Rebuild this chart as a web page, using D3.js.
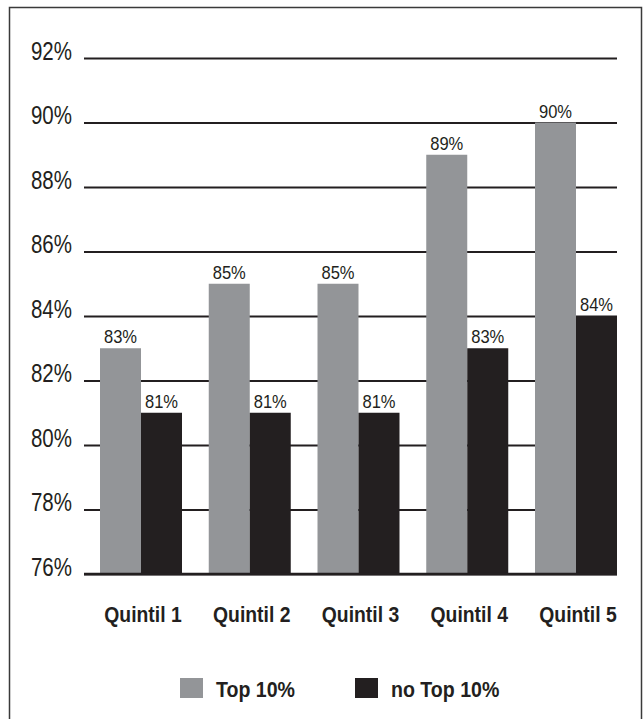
<!DOCTYPE html>
<html>
<head>
<meta charset="utf-8">
<script src="https://cdn.jsdelivr.net/npm/d3@7"></script>
<style>
body { margin: 0; background: #fff; }
text { font-family: "Liberation Sans", Arial, sans-serif; fill: #231f20; }
.ticklab { font-size: 25px; }
.vallab { font-size: 18px; }
.catlab { font-size: 22px; font-weight: bold; }
.leglab { font-size: 22px; font-weight: bold; }
</style>
</head>
<body>
<div id="chart"></div>
<script>
var categories = ["Quintil 1", "Quintil 2", "Quintil 3", "Quintil 4", "Quintil 5"];
var seriesNames = ["Top 10%", "no Top 10%"];
var top10 = [83, 85, 85, 89, 90];
var noTop10 = [81, 81, 81, 83, 84];
var yTicks = [76, 78, 80, 82, 84, 86, 88, 90, 92];
var colors = ["#939598", "#231f20"];

// narrow the glyphs a bit, the original uses a condensed face
var squeeze = function(x, y, s){ return "translate(" + x + "," + y + ") scale(" + s + ",1)"; };

var draw = function(){
	var svg = d3.select("#chart").append("svg").attr("width", 643).attr("height", 719);

	// frame, open at the bottom
	svg.append("path").attr("d", "M9.5,719 L9.5,7.5 L641.5,7.5 L641.5,719")
		.attr("fill", "none").attr("stroke", "#3a3a3a").attr("stroke-width", 1.5);

	var x0 = d3.scaleBand().domain(categories).range([100, 617]).paddingInner(0.246).paddingOuter(0);
	var x1 = d3.scaleBand().domain([0, 1]).range([0, x0.bandwidth()]);
	var y = d3.scaleLinear().domain([76, 92]).range([574, 58]);

	var yAxis = d3.axisLeft(y).tickValues(yTicks).tickSizeInner(-533).tickSizeOuter(0)
		.tickFormat(function(d){ return d + "%"; }).tickPadding(12);

	var g = svg.append("g").attr("transform", "translate(84,0)").call(yAxis);
	g.attr("font-family", null).attr("font-size", null);
	g.select(".domain").remove();
	g.selectAll(".tick line").attr("stroke", "#231f20").attr("stroke-width", 2);
	g.selectAll(".tick text").attr("class", "ticklab")
		.attr("x", 0).attr("dy", null).attr("y", 0)
		.attr("transform", squeeze(-12, 1, 0.82))
		.attr("fill", "#231f20");

	var data = categories.map(function(c, i){ return {cat: c, vals: [top10[i], noTop10[i]]}; });

	var groups = svg.append("g").selectAll(".grp").data(data).enter()
		.append("g").attr("class", "grp")
		.attr("transform", function(d){ return "translate(" + x0(d.cat) + ",0)"; });

	groups.selectAll("rect").data(function(d){ return d.vals; }).enter()
		.append("rect")
		.attr("x", function(d, i){ return x1(i); })
		.attr("y", function(d){ return y(d); })
		.attr("width", x1.bandwidth())
		.attr("height", function(d){ return y(76) - y(d); })
		.attr("fill", function(d, i){ return colors[i]; });

	groups.selectAll(".vallab").data(function(d){ return d.vals; }).enter()
		.append("text").attr("class", "vallab")
		.attr("text-anchor", "middle")
		.attr("transform", function(d, i){ return squeeze(x1(i) + x1.bandwidth() / 2, y(d) - 5, 0.92); })
		.text(function(d){ return d + "%"; });

	// baseline over the bars
	svg.append("line").attr("x1", 84).attr("x2", 617).attr("y1", y(76)).attr("y2", y(76))
		.attr("stroke", "#231f20").attr("stroke-width", 2.5);

	svg.append("g").selectAll(".catlab").data(categories).enter()
		.append("text").attr("class", "catlab").attr("text-anchor", "middle")
		.attr("transform", function(d){ return squeeze(x0(d) + x0.bandwidth() / 2 + 2, 622, 0.88); })
		.text(function(d){ return d; });

	// legend
	var legX = [180, 355];
	var leg = svg.append("g").selectAll(".leg").data(seriesNames).enter()
		.append("g").attr("class", "leg")
		.attr("transform", function(d, i){ return "translate(" + legX[i] + ",678)"; });
	leg.append("rect").attr("width", 23).attr("height", 20)
		.attr("fill", function(d, i){ return colors[i]; });
	leg.append("text").attr("class", "leglab")
		.attr("transform", squeeze(36, 19, 0.89))
		.text(function(d){ return d; });
};

window.onload = function(){
	draw();
};
</script>
</body>
</html>
